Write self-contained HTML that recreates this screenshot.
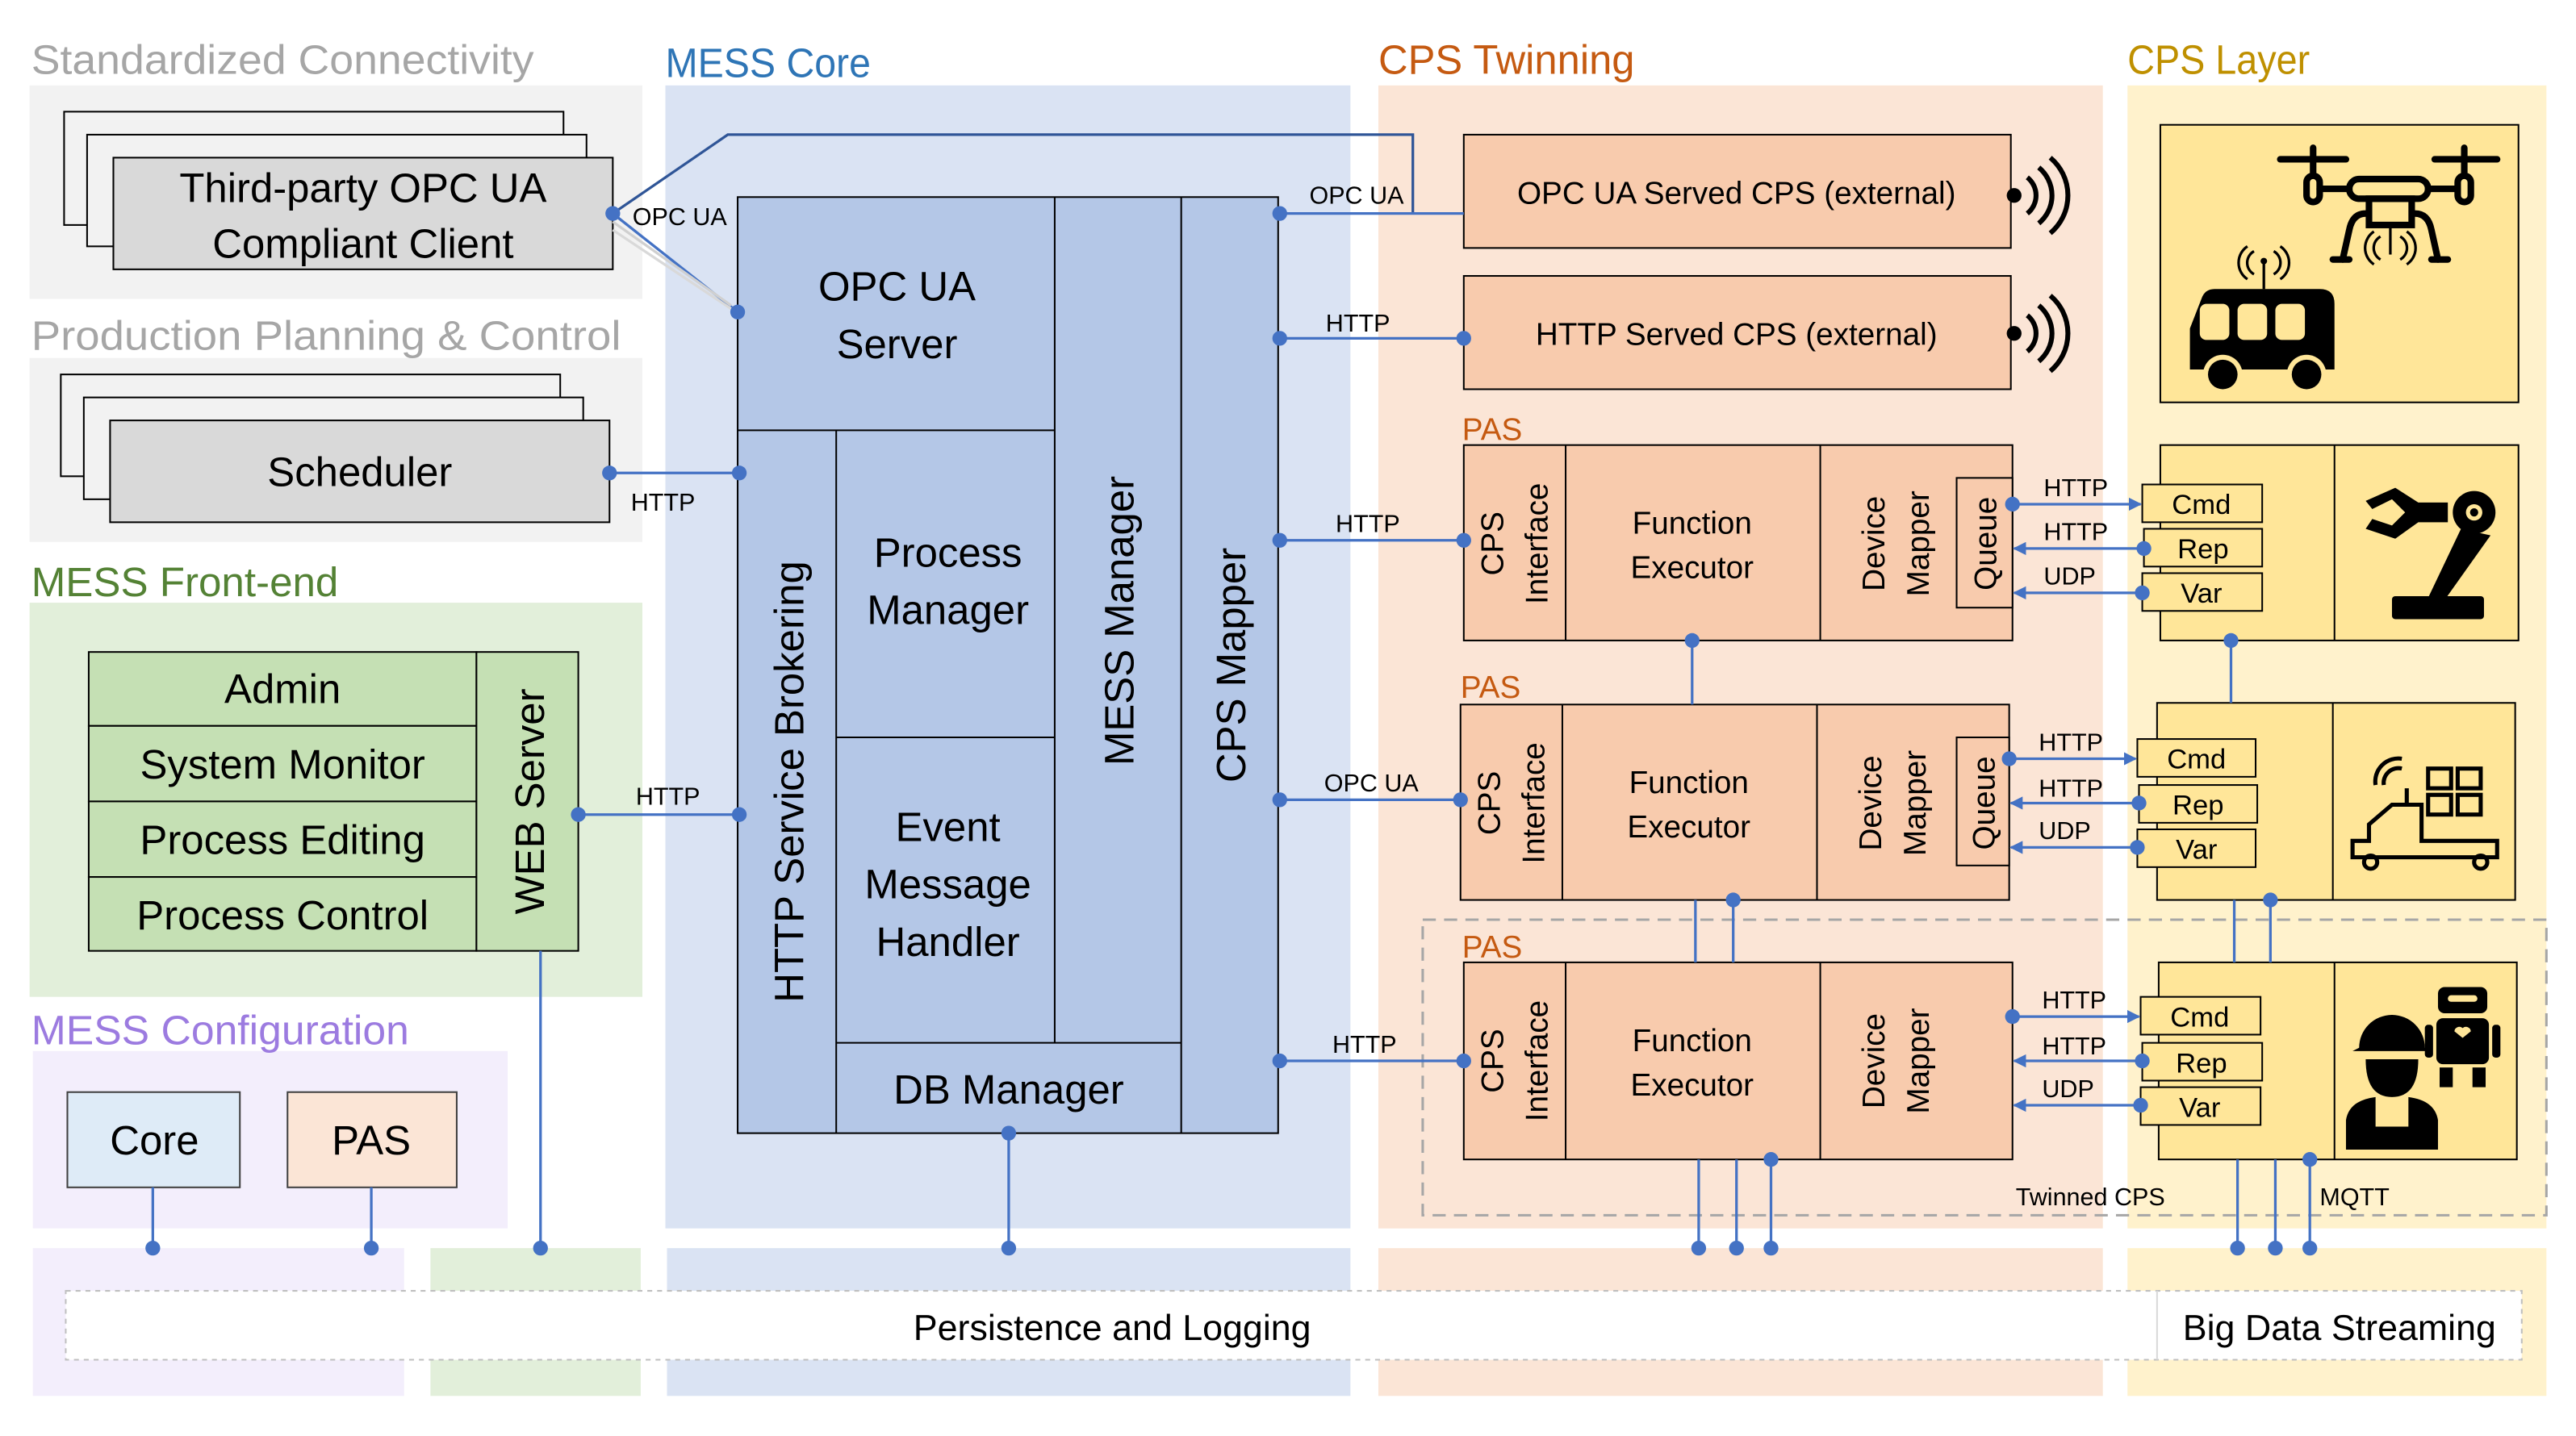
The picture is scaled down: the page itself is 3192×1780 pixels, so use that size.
<!DOCTYPE html>
<html><head><meta charset="utf-8"><style>html,body{margin:0;padding:0;background:#fff}svg{display:block}text{font-family:"Liberation Sans",sans-serif}</style></head><body>
<svg width="3192" height="1780" viewBox="0 0 1568 874.4" xmlns="http://www.w3.org/2000/svg">
<defs>
<marker id="ah" viewBox="0 0 10 10" refX="9" refY="5" markerWidth="5" markerHeight="5" orient="auto-start-reverse"><path d="M0,0 L10,5 L0,10 z" fill="#4472c4"/></marker>
</defs>
<rect width="1568" height="874.4" fill="#fff"/>
<rect x="18" y="52" width="373" height="130" fill="#f2f2f2"/>
<rect x="18" y="218" width="373" height="112" fill="#f2f2f2"/>
<rect x="18" y="367" width="373" height="240" fill="#e2efda"/>
<rect x="20" y="640" width="289" height="108" fill="#f3eefc"/>
<rect x="20" y="760" width="226" height="90" fill="#f3eefc"/>
<rect x="262" y="760" width="128" height="90" fill="#e2efda"/>
<rect x="405" y="52" width="417" height="696" fill="#dae3f3"/>
<rect x="406" y="760" width="416" height="90" fill="#dae3f3"/>
<rect x="839" y="52" width="441" height="696" fill="#fbe5d6"/>
<rect x="839" y="760" width="441" height="90" fill="#fbe5d6"/>
<rect x="1295" y="52" width="255" height="696" fill="#fff2cc"/>
<rect x="1295" y="760" width="255" height="90" fill="#fff2cc"/>
<g font-size="25">
<text x="19" y="45" fill="#a6a6a6" textLength="306" lengthAdjust="spacingAndGlyphs">Standardized Connectivity</text>
<text x="19" y="213" fill="#a6a6a6" textLength="359" lengthAdjust="spacingAndGlyphs">Production Planning &amp; Control</text>
<text x="19" y="363" fill="#548235" textLength="187" lengthAdjust="spacingAndGlyphs">MESS Front-end</text>
<text x="19" y="636" fill="#9c7be0" textLength="230" lengthAdjust="spacingAndGlyphs">MESS Configuration</text>
<text x="405" y="47" fill="#2e75b6" textLength="125" lengthAdjust="spacingAndGlyphs">MESS Core</text>
<text x="839" y="45" fill="#c55a11" textLength="156" lengthAdjust="spacingAndGlyphs">CPS Twinning</text>
<text x="1295" y="45" fill="#bf9000" textLength="111" lengthAdjust="spacingAndGlyphs">CPS Layer</text>
</g>
<rect x="40" y="786" width="1495" height="42" fill="#fff" stroke="#bfbfbf" stroke-dasharray="3,3"/>
<line x1="1313" y1="786" x2="1313" y2="828" stroke="#d9d9d9"/>
<text x="677" y="816" font-size="22" text-anchor="middle">Persistence and Logging</text>
<text x="1424" y="816" font-size="22" text-anchor="middle">Big Data Streaming</text>

<g stroke="#000" stroke-width="1">
<rect x="39" y="68" width="304" height="69" fill="#f2f2f2"/>
<rect x="53" y="82" width="304" height="68" fill="#f2f2f2"/>
<rect x="69" y="96" width="304" height="68" fill="#d9d9d9"/>
<rect x="37" y="228" width="304" height="62" fill="#f2f2f2"/>
<rect x="51" y="242" width="304" height="62" fill="#f2f2f2"/>
<rect x="67" y="256" width="304" height="62" fill="#d9d9d9"/>
<rect x="54" y="397" width="236" height="45" fill="#c5e0b4"/>
<rect x="54" y="442" width="236" height="46" fill="#c5e0b4"/>
<rect x="54" y="488" width="236" height="46" fill="#c5e0b4"/>
<rect x="54" y="534" width="236" height="45" fill="#c5e0b4"/>
<rect x="290" y="397" width="62" height="182" fill="#c5e0b4"/>
<rect x="41" y="665" width="105" height="58" fill="#deebf7" stroke="#404040"/>
<rect x="175" y="665" width="103" height="58" fill="#fbe5d6" stroke="#404040"/>
<rect x="449" y="120" width="329" height="570" fill="#b4c7e7"/>
<line x1="449" y1="262" x2="642" y2="262"/>
<line x1="509" y1="262" x2="509" y2="690"/>
<line x1="509" y1="449" x2="642" y2="449"/>
<line x1="509" y1="635" x2="719" y2="635"/>
<line x1="642" y1="120" x2="642" y2="635"/>
<line x1="719" y1="120" x2="719" y2="690"/>
<rect x="891" y="82" width="333" height="69" fill="#f8cbad"/>
<rect x="891" y="168" width="333" height="69" fill="#f8cbad"/>
<rect x="891" y="271" width="334" height="119" fill="#f8cbad"/>
<line x1="953" y1="271" x2="953" y2="390"/><line x1="1108" y1="271" x2="1108" y2="390"/>
<rect x="1191" y="291" width="34" height="79" fill="#f8cbad"/>
<rect x="889" y="429" width="334" height="119" fill="#f8cbad"/>
<line x1="951" y1="429" x2="951" y2="548"/><line x1="1106" y1="429" x2="1106" y2="548"/>
<rect x="1191" y="449" width="32" height="78" fill="#f8cbad"/>
<rect x="891" y="586" width="334" height="120" fill="#f8cbad"/>
<line x1="953" y1="586" x2="953" y2="706"/><line x1="1108" y1="586" x2="1108" y2="706"/>
<rect x="1315" y="76" width="218" height="169" fill="#ffe699"/>
<rect x="1315" y="271" width="218" height="119" fill="#ffe699"/><line x1="1421" y1="271" x2="1421" y2="390"/>
<rect x="1313" y="428" width="218" height="120" fill="#ffe699"/><line x1="1420" y1="428" x2="1420" y2="548"/>
<rect x="1314" y="586" width="218" height="120" fill="#ffe699"/><line x1="1421" y1="586" x2="1421" y2="706"/>
<rect x="1304" y="295" width="73" height="23" fill="#ffe699"/>
<rect x="1305" y="322" width="72" height="23" fill="#ffe699"/>
<rect x="1304" y="349" width="73" height="23" fill="#ffe699"/>
<rect x="1301" y="450" width="72" height="23" fill="#ffe699"/>
<rect x="1302" y="478" width="72" height="23" fill="#ffe699"/>
<rect x="1301" y="505" width="72" height="23" fill="#ffe699"/>
<rect x="1303" y="607" width="73" height="23" fill="#ffe699"/>
<rect x="1304" y="635" width="73" height="23" fill="#ffe699"/>
<rect x="1303" y="662" width="73" height="23" fill="#ffe699"/>
</g>
<rect x="866" y="560" width="684" height="180" fill="none" stroke="#a6a6a6" stroke-width="1.5" stroke-dasharray="8,5"/>

<g font-size="25" text-anchor="middle">
<text x="221" y="123">Third-party OPC UA</text>
<text x="221" y="157">Compliant Client</text>
<text x="219" y="296">Scheduler</text>
<text x="172" y="428">Admin</text>
<text x="172" y="474">System Monitor</text>
<text x="172" y="520">Process Editing</text>
<text x="172" y="566">Process Control</text>
<text transform="translate(331,488) rotate(-90)">WEB Server</text>
<text x="94" y="703">Core</text>
<text x="226" y="703">PAS</text>
<text x="546" y="183">OPC UA</text>
<text x="546" y="218">Server</text>
<text x="577" y="345">Process</text>
<text x="577" y="380">Manager</text>
<text x="577" y="512">Event</text>
<text x="577" y="547">Message</text>
<text x="577" y="582">Handler</text>
<text x="614" y="672">DB Manager</text>
<text transform="translate(489,476) rotate(-90)">HTTP Service Brokering</text>
<text transform="translate(690,378) rotate(-90)">MESS Manager</text>
<text transform="translate(758,405) rotate(-90)">CPS Mapper</text>
</g>
<g font-size="19" text-anchor="middle">
<text x="1057" y="124">OPC UA Served CPS (external)</text>
<text x="1057" y="210">HTTP Served CPS (external)</text>
<text x="1030" y="325">Function</text><text x="1030" y="352">Executor</text>
<text x="1028" y="483">Function</text><text x="1028" y="510">Executor</text>
<text x="1030" y="640">Function</text><text x="1030" y="667">Executor</text>
<text transform="translate(915,331) rotate(-90)">CPS</text>
<text transform="translate(942,331) rotate(-90)">Interface</text>
<text transform="translate(913,489) rotate(-90)">CPS</text>
<text transform="translate(940,489) rotate(-90)">Interface</text>
<text transform="translate(915,646) rotate(-90)">CPS</text>
<text transform="translate(942,646) rotate(-90)">Interface</text>
<text transform="translate(1147,331) rotate(-90)">Device</text>
<text transform="translate(1174,331) rotate(-90)">Mapper</text>
<text transform="translate(1145,489) rotate(-90)">Device</text>
<text transform="translate(1172,489) rotate(-90)">Mapper</text>
<text transform="translate(1147,646) rotate(-90)">Device</text>
<text transform="translate(1174,646) rotate(-90)">Mapper</text>
<text transform="translate(1215,331) rotate(-90)">Queue</text>
<text transform="translate(1214,489) rotate(-90)">Queue</text>
</g>
<g font-size="17" text-anchor="middle">
<text x="1340" y="313">Cmd</text><text x="1341" y="340">Rep</text><text x="1340" y="367">Var</text>
<text x="1337" y="468">Cmd</text><text x="1338" y="496">Rep</text><text x="1337" y="523">Var</text>
<text x="1339" y="625">Cmd</text><text x="1340" y="653">Rep</text><text x="1339" y="680">Var</text>
</g>
<g font-size="19" fill="#c55a11"><text x="890" y="268">PAS</text><text x="889" y="425">PAS</text><text x="890" y="583">PAS</text></g>
<g font-size="15">
<text x="385" y="137">OPC UA</text>
<text x="384" y="311">HTTP</text>
<text x="387" y="490">HTTP</text>
<text x="797" y="124">OPC UA</text>
<text x="807" y="202">HTTP</text>
<text x="813" y="324">HTTP</text>
<text x="806" y="482">OPC UA</text>
<text x="811" y="641">HTTP</text>
<text x="1244" y="302">HTTP</text><text x="1244" y="329">HTTP</text><text x="1244" y="356">UDP</text>
<text x="1241" y="457">HTTP</text><text x="1241" y="485">HTTP</text><text x="1241" y="511">UDP</text>
<text x="1243" y="614">HTTP</text><text x="1243" y="642">HTTP</text><text x="1243" y="668">UDP</text>
<text x="1227" y="734">Twinned CPS</text>
<text x="1412" y="734">MQTT</text>
</g>

<g stroke="#4472c4" stroke-width="1.6" fill="none">
<line x1="373" y1="130" x2="449" y2="190"/>
<line x1="373" y1="135" x2="445" y2="186" stroke="#d0d0d0"/>
<line x1="373" y1="140" x2="445" y2="188" stroke="#d9d9d9"/>
<polyline points="373,130 443,82 860,82 860,130" stroke="#2f5597"/>
<line x1="371" y1="288" x2="450" y2="288"/>
<line x1="352" y1="496" x2="450" y2="496"/>
<line x1="329" y1="579" x2="329" y2="760"/>
<line x1="93" y1="723" x2="93" y2="760"/>
<line x1="226" y1="723" x2="226" y2="760"/>
<line x1="614" y1="690" x2="614" y2="760"/>
<line x1="779" y1="130" x2="891" y2="130"/>
<line x1="779" y1="206" x2="891" y2="206"/>
<line x1="779" y1="329" x2="891" y2="329"/>
<line x1="779" y1="487" x2="889" y2="487"/>
<line x1="779" y1="646" x2="891" y2="646"/>
<line x1="1030" y1="390" x2="1030" y2="429"/>
<line x1="1032" y1="548" x2="1032" y2="586"/>
<line x1="1055" y1="548" x2="1055" y2="586"/>
<line x1="1034" y1="706" x2="1034" y2="760"/>
<line x1="1057" y1="706" x2="1057" y2="760"/>
<line x1="1078" y1="706" x2="1078" y2="760"/>
<line x1="1358" y1="390" x2="1358" y2="428"/>
<line x1="1360" y1="548" x2="1360" y2="586"/>
<line x1="1382" y1="548" x2="1382" y2="586"/>
<line x1="1362" y1="706" x2="1362" y2="760"/>
<line x1="1385" y1="706" x2="1385" y2="760"/>
<line x1="1406" y1="706" x2="1406" y2="760"/>
<g marker-end="url(#ah)">
<line x1="1225" y1="307" x2="1303" y2="307"/>
<line x1="1305" y1="334" x2="1226" y2="334"/>
<line x1="1304" y1="361" x2="1226" y2="361"/>
<line x1="1223" y1="462" x2="1300" y2="462"/>
<line x1="1302" y1="489" x2="1224" y2="489"/>
<line x1="1301" y1="516" x2="1224" y2="516"/>
<line x1="1225" y1="619" x2="1302" y2="619"/>
<line x1="1304" y1="646" x2="1226" y2="646"/>
<line x1="1303" y1="673" x2="1226" y2="673"/>
</g>
</g>
<g fill="#4472c4">
<circle cx="373" cy="130" r="4.5"/><circle cx="449" cy="190" r="4.5"/>
<circle cx="371" cy="288" r="4.5"/><circle cx="450" cy="288" r="4.5"/>
<circle cx="352" cy="496" r="4.5"/><circle cx="450" cy="496" r="4.5"/>
<circle cx="329" cy="760" r="4.5"/><circle cx="93" cy="760" r="4.5"/><circle cx="226" cy="760" r="4.5"/>
<circle cx="614" cy="690" r="4.5"/><circle cx="614" cy="760" r="4.5"/>
<circle cx="779" cy="130" r="4.5"/><circle cx="779" cy="206" r="4.5"/><circle cx="779" cy="329" r="4.5"/><circle cx="779" cy="487" r="4.5"/><circle cx="779" cy="646" r="4.5"/>
<circle cx="891" cy="206" r="4.5"/><circle cx="891" cy="329" r="4.5"/><circle cx="889" cy="487" r="4.5"/><circle cx="891" cy="646" r="4.5"/>
<circle cx="1030" cy="390" r="4.5"/><circle cx="1055" cy="548" r="4.5"/><circle cx="1078" cy="706" r="4.5"/>
<circle cx="1034" cy="760" r="4.5"/><circle cx="1057" cy="760" r="4.5"/><circle cx="1078" cy="760" r="4.5"/>
<circle cx="1225" cy="307" r="4.5"/><circle cx="1305" cy="334" r="4.5"/><circle cx="1304" cy="361" r="4.5"/>
<circle cx="1223" cy="462" r="4.5"/><circle cx="1302" cy="489" r="4.5"/><circle cx="1301" cy="516" r="4.5"/>
<circle cx="1225" cy="619" r="4.5"/><circle cx="1304" cy="646" r="4.5"/><circle cx="1303" cy="673" r="4.5"/>
<circle cx="1358" cy="390" r="4.5"/><circle cx="1382" cy="548" r="4.5"/><circle cx="1406" cy="706" r="4.5"/>
<circle cx="1362" cy="760" r="4.5"/><circle cx="1385" cy="760" r="4.5"/><circle cx="1406" cy="760" r="4.5"/>
</g>

<g stroke="#000" stroke-width="3" fill="none">
<path d="M1234,108 a14,14 0 0 1 0,22"/><path d="M1241,102 a22,22 0 0 1 0,34"/><path d="M1248,96 a30,30 0 0 1 0,46"/>
<path d="M1234,192 a14,14 0 0 1 0,22"/><path d="M1241,186 a22,22 0 0 1 0,34"/><path d="M1248,180 a30,30 0 0 1 0,46"/>
</g>
<circle cx="1226" cy="119" r="4.5"/><circle cx="1226" cy="203" r="4.5"/>

<g stroke="#000" stroke-width="4" stroke-linecap="round" fill="none">
<line x1="1388" y1="97" x2="1428" y2="97"/><line x1="1482" y1="97" x2="1520" y2="97"/>
<line x1="1408" y1="90" x2="1408" y2="105"/><line x1="1500" y1="90" x2="1500" y2="105"/>
<rect x="1404" y="107" width="8" height="16" rx="4"/><rect x="1496" y="107" width="8" height="16" rx="4"/>
<line x1="1412" y1="115" x2="1430" y2="115"/><line x1="1478" y1="115" x2="1496" y2="115"/>
<rect x="1430" y="109" width="48" height="12" rx="6"/>
<rect x="1442" y="121" width="26" height="16"/>
<path d="M1440,130 Q1432,130 1430,140 L1426,158"/><path d="M1470,130 Q1478,130 1480,140 L1484,158"/>
<line x1="1420" y1="158" x2="1430" y2="158"/><line x1="1480" y1="158" x2="1490" y2="158"/>
</g>
<g stroke="#000" stroke-width="1.6" fill="none">
<line x1="1455" y1="137" x2="1455" y2="155"/>
<path d="M1449,144 a8,8 0 0 0 0,14"/><path d="M1461,144 a8,8 0 0 1 0,14"/>
<path d="M1445,141 a12,12 0 0 0 0,20"/><path d="M1465,141 a12,12 0 0 1 0,20"/>
<line x1="1378" y1="160" x2="1378" y2="176"/>
<path d="M1372,153 a8,8 0 0 0 0,14"/><path d="M1384,153 a8,8 0 0 1 0,14"/>
<path d="M1368,150 a12,12 0 0 0 0,20"/><path d="M1388,150 a12,12 0 0 1 0,20"/>
</g>
<circle cx="1378" cy="159" r="2"/>
<path d="M1348,176 L1412,176 Q1421,176 1421,185 L1421,225 L1333,225 L1333,200 L1340,182 Q1342,176 1348,176 Z" fill="#000"/>
<g fill="#ffe699"><rect x="1339" y="185" width="18" height="22" rx="4"/><rect x="1362" y="185" width="18" height="22" rx="4"/><rect x="1385" y="185" width="18" height="22" rx="4"/>
<circle cx="1353" cy="228" r="12"/><circle cx="1404" cy="228" r="12"/></g>
<circle cx="1353" cy="228" r="9"/><circle cx="1404" cy="228" r="9"/>

<g fill="#000">
<path d="M1440,305 L1458,297 L1472,306 L1490,306 L1490,318 L1472,318 L1458,328 L1440,322 L1444,316 L1456,320 L1464,312 L1456,304 L1444,310 Z"/>
<circle cx="1506" cy="312" r="13"/>
<path d="M1498,322 L1516,326 L1489,364 L1478,364 Z"/>
<rect x="1456" y="363" width="56" height="14" rx="2"/>
</g>
<circle cx="1506" cy="312" r="5" fill="#ffe699"/><circle cx="1506" cy="312" r="2.5"/>

<g stroke="#000" stroke-width="2.5" fill="none">
<rect x="1478" y="468" width="14" height="12"/><rect x="1496" y="468" width="14" height="12"/>
<rect x="1478" y="484" width="14" height="12"/><rect x="1496" y="484" width="14" height="12"/>
<path d="M1432,512 L1432,522 L1520,522 L1520,512 L1474,512 L1474,490 L1456,490 L1442,502 L1442,512 Z"/>
<circle cx="1443" cy="525" r="4"/><circle cx="1510" cy="525" r="4"/>
<line x1="1465" y1="490" x2="1465" y2="480"/>
<path d="M1446,478 a14,14 0 0 1 16,-16"/><path d="M1451,478 a9,9 0 0 1 11,-10"/>
</g>

<g fill="#000">
<path d="M1436,638 a20,20 0 0 1 40,0 L1480,640 L1432,640 Z"/>
<path d="M1440,645 L1472,645 Q1472,668 1456,668 Q1440,668 1440,645 Z"/>
<path d="M1428,700 L1428,682 Q1430,670 1446,668 L1446,686 L1466,686 L1466,668 Q1482,670 1484,682 L1484,700 Z"/>
<rect x="1484" y="601" width="30" height="16" rx="4"/>
<rect x="1483" y="620" width="32" height="28" rx="4"/>
<rect x="1476" y="624" width="5" height="20" rx="2"/><rect x="1517" y="624" width="5" height="20" rx="2"/>
<rect x="1485" y="650" width="8" height="12"/><rect x="1505" y="650" width="8" height="12"/>
</g>
<rect x="1490" y="606" width="18" height="4" rx="2" fill="#ffe699"/>
<path d="M1499,632 l-5,-4 a3,3 0 0 1 5,-2 a3,3 0 0 1 5,2 z" fill="#ffe699"/>
</svg>
</body></html>
